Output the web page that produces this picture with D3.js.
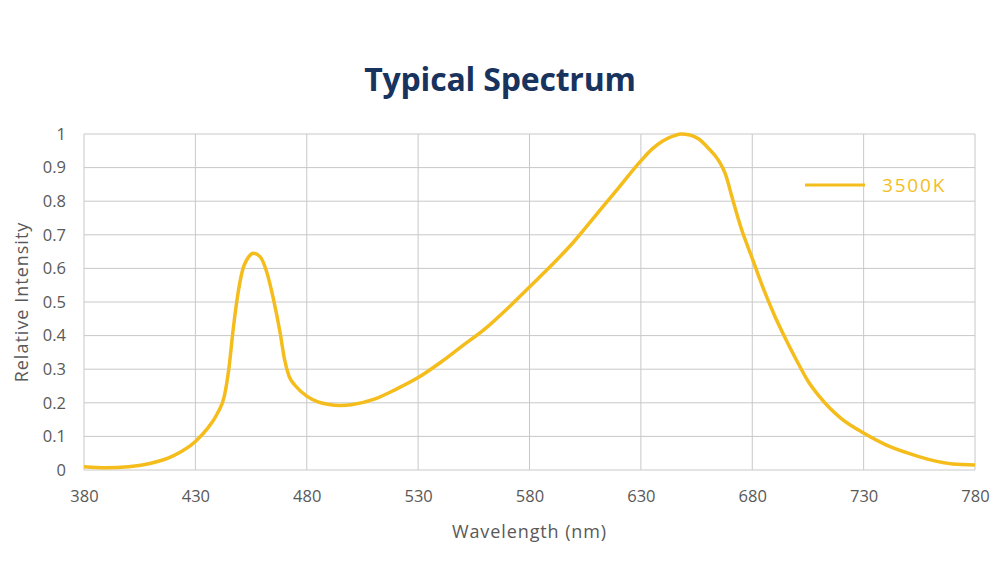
<!DOCTYPE html>
<html lang="en">
<head>
    <meta charset="UTF-8">
    <title>Typical Spectrum</title>
    <script src="https://d3js.org/d3.v7.min.js"></script>
    <style>
        body { margin: 0; background: #fff; }
    </style>
</head>
<body>
    <svg width="1000" height="566"></svg>

    <script>
        // Spectrum readings (nm, relative intensity)
        const wavelengths = [380, 390, 400, 410, 420, 430, 435, 440, 443, 445, 447, 449, 451, 454, 456, 459, 462, 465, 468, 470, 472, 475, 480, 485, 490, 495, 500, 510, 520, 530, 540, 550, 560, 570, 580, 590, 600, 610, 620, 630, 635, 640, 645, 648, 652, 656, 660, 665, 668, 671, 675, 680, 685, 690, 695, 700, 705, 710, 715, 720, 730, 740, 750, 760, 770, 780];
        const intensity = [0.01, 0.007, 0.01, 0.02, 0.042, 0.085, 0.12, 0.17, 0.22, 0.3, 0.42, 0.52, 0.59, 0.635, 0.645, 0.635, 0.59, 0.51, 0.41, 0.33, 0.28, 0.25, 0.22, 0.203, 0.195, 0.192, 0.194, 0.21, 0.24, 0.275, 0.32, 0.37, 0.42, 0.48, 0.545, 0.61, 0.68, 0.76, 0.84, 0.92, 0.955, 0.98, 0.995, 1.0, 0.997, 0.985, 0.96, 0.92, 0.88, 0.81, 0.72, 0.63, 0.54, 0.46, 0.39, 0.325, 0.265, 0.22, 0.183, 0.153, 0.11, 0.075, 0.05, 0.03, 0.018, 0.015];
        const xTicks = [380, 430, 480, 530, 580, 630, 680, 730, 780];
        const yTicks = [0, 0.1, 0.2, 0.3, 0.4, 0.5, 0.6, 0.7, 0.8, 0.9, 1];
        const seriesName = "3500K";

        const svg = d3.select("svg");
        const margin = { left: 84, right: 25, top: 134, bottom: 96 };
        const width = 1000, height = 566;
        const lineColor = "#f4bd1c";
        const textColor = "#595959";
        const font = "Open Sans, sans-serif";

        const x = d3.scaleLinear().domain([380, 780]).range([margin.left, width - margin.right]);
        const y = d3.scaleLinear().domain([0, 1]).range([height - margin.bottom, margin.top]);

        // Title
        svg.append("text")
            .attr("x", 500).attr("y", 91)
            .attr("text-anchor", "middle")
            .attr("font-family", font)
            .attr("font-weight", 700)
            .attr("font-size", 32)
            .attr("letter-spacing", -0.2)
            .attr("fill", "#17335e")
            .text("Typical Spectrum");

        // Gridlines
        svg.append("g")
            .selectAll("line")
            .data(yTicks)
            .join("line")
            .attr("x1", x(380)).attr("x2", x(780))
            .attr("y1", d => y(d)).attr("y2", d => y(d))
            .attr("stroke", "#c8c8c8").attr("stroke-width", 1);

        svg.append("g")
            .selectAll("line")
            .data(xTicks)
            .join("line")
            .attr("x1", d => x(d)).attr("x2", d => x(d))
            .attr("y1", y(0)).attr("y2", y(1))
            .attr("stroke", "#c8c8c8").attr("stroke-width", 1);

        // Axes
        const xAxis = svg.append("g")
            .attr("transform", `translate(0,${y(0)})`)
            .call(d3.axisBottom(x).tickValues(xTicks).tickSize(0).tickPadding(17));
        const yAxis = svg.append("g")
            .attr("transform", `translate(${x(380)},0)`)
            .call(d3.axisLeft(y).tickValues(yTicks).tickFormat(d3.format("~g")).tickSize(0).tickPadding(18));

        [xAxis, yAxis].forEach(a => {
            a.select(".domain").remove();
            a.selectAll("text")
                .attr("font-family", font)
                .attr("font-size", 16.5)
                .attr("fill", textColor);
        });
        xAxis.selectAll("text").attr("dy", "0.9em");

        // Axis titles
        svg.append("text")
            .attr("x", x(580)).attr("y", 538)
            .attr("text-anchor", "middle")
            .attr("font-family", font)
            .attr("font-size", 18)
            .attr("letter-spacing", 0.9)
            .attr("fill", textColor)
            .text("Wavelength (nm)");

        svg.append("text")
            .attr("transform", `translate(28,${y(0.5)}) rotate(-90)`)
            .attr("text-anchor", "middle")
            .attr("font-family", font)
            .attr("font-size", 18)
            .attr("letter-spacing", 1)
            .attr("fill", textColor)
            .text("Relative Intensity");

        // Spectrum line
        const points = wavelengths.map((w, i) => [w, intensity[i]]);
        const line = d3.line()
            .x(d => x(d[0]))
            .y(d => y(d[1]))
            .curve(d3.curveMonotoneX);

        svg.append("path")
            .datum(points)
            .attr("fill", "none")
            .attr("stroke", lineColor)
            .attr("stroke-width", 3.5)
            .attr("stroke-linejoin", "round")
            .attr("d", line);

        // Legend
        const legend = svg.append("g").attr("transform", "translate(805,185)");
        legend.append("line")
            .attr("x1", 0).attr("x2", 60)
            .attr("stroke", lineColor).attr("stroke-width", 3);
        legend.append("text")
            .attr("x", 77).attr("y", 7)
            .attr("font-family", font)
            .attr("font-size", 19)
            .attr("letter-spacing", 1.8)
            .attr("fill", lineColor)
            .text(seriesName);
    </script>
</body>
</html>
